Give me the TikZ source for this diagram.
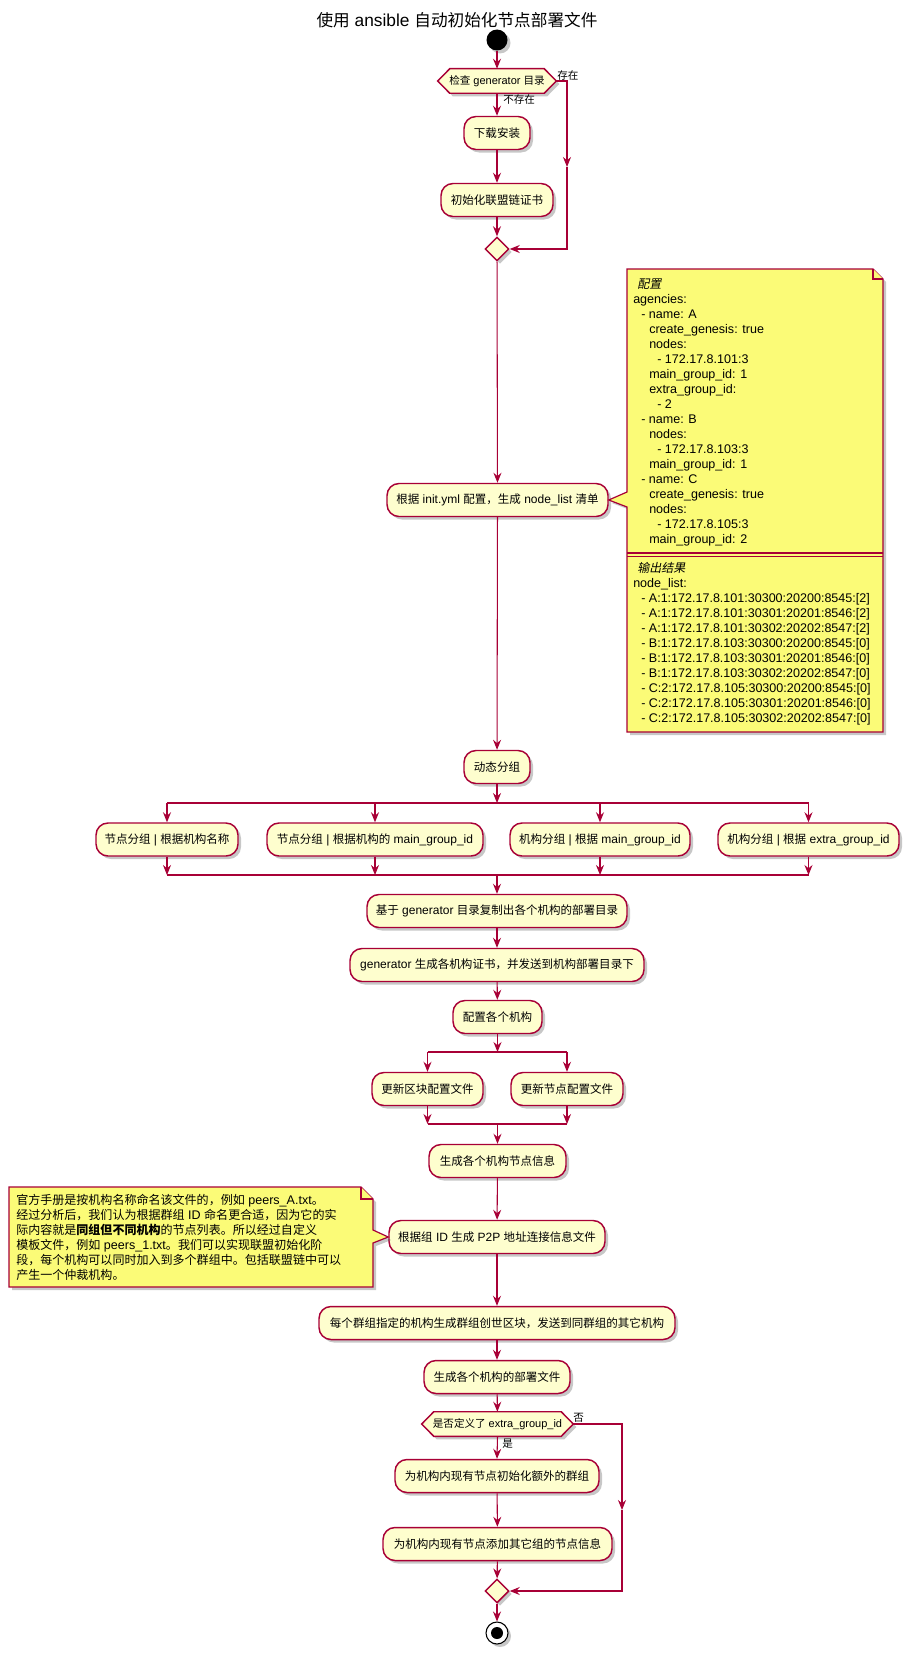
\documentclass[tikz,border=0pt]{standalone}
\usepackage{fontspec}
\setmainfont{Liberation Sans}
\newfontfamily\cjkfont{Noto Sans CJK SC}[Scale=0.96, AutoFakeSlant=0.2]
\usetikzlibrary{arrows.meta, shapes.geometric}
\pgfdeclarelayer{bg}
\pgfsetlayers{bg,main}
\XeTeXinterchartokenstate=1
\newXeTeXintercharclass\CJKclass
\newcount\cjkc
\def\setcjkrange#1#2{\cjkc=#1\relax\loop\XeTeXcharclass\cjkc=\CJKclass\relax\ifnum\cjkc<#2\relax\advance\cjkc by 1\relax\repeat}
\setcjkrange{"3000}{"303F}
\setcjkrange{"4E00}{"9FFF}
\setcjkrange{"FF00}{"FFEF}
\XeTeXinterchartoks 0 \CJKclass={\begingroup\cjkfont}
\XeTeXinterchartoks 4095 \CJKclass={\begingroup\cjkfont}
\XeTeXinterchartoks \CJKclass 0={\endgroup}
\XeTeXinterchartoks \CJKclass 4095={\endgroup}
\definecolor{pred}{HTML}{A80036}
\definecolor{pfill}{HTML}{FEFECE}
\definecolor{nfill}{HTML}{FBFB77}
\newcommand\idA{\hspace*{6pt}}
\newcommand\idB{\hspace*{12pt}}
\newcommand\idC{\hspace*{18pt}}
\newcommand\idT{\hspace*{3pt}}
\tikzset{
  pxgrid/.style={x=0.75pt,y=-0.75pt},
  shad/.style={preaction={fill=black, fill opacity=0.22, draw=none, transform canvas={shift={(3,3)}}}},
  act/.style={draw=pred, fill=pfill, line width=1.1pt, rounded corners=9pt, minimum height=24.75pt, inner sep=0pt, font=\fontsize{9pt}{11pt}\selectfont, shad},
  wd/.style={minimum width=#1*0.75pt},
  dect/.style={minimum height=18pt, inner sep=0pt, font=\fontsize{8.25pt}{10pt}\selectfont},
  decshape/.style={draw=pred, fill=pfill, line width=1.1pt, shad},
  lbl/.style={anchor=west, inner sep=0pt, font=\fontsize{8.25pt}{10pt}\selectfont},
  flow/.style={draw=pred, line width=0.8pt},
  arr/.style={flow, -{Stealth[length=7.5pt, width=6pt, inset=2.5pt]}},
  notebox/.style={draw=pred, fill=nfill, line width=0.9pt, line join=miter, shad},
  notetext/.style={anchor=north west, inner sep=0pt, align=left, font=\fontsize{9.4pt}{11.25pt}\selectfont},
  mergedia/.style={diamond, draw=pred, fill=pfill, line width=1.1pt, minimum width=18pt, minimum height=18pt, inner sep=0pt, shad},
  titletext/.style={inner sep=0pt, font=\fontsize{13pt}{15pt}\selectfont},
}
\begin{document}
\begin{tikzpicture}[pxgrid]
\useasboundingbox (0,0) rectangle (915,1659);
\node[titletext] (title) at (457,20) {使用 ansible 自动初始化节点部署文件};

\node[circle, fill=black, minimum size=15.75pt, inner sep=0pt, shad] (start) at (497,40) {};

\node[dect, wd=118] (d1) at (497,81) {检查 generator 目录};
\node[act, wd=66] (b1) at (497,133) {下载安装};
\node[act, wd=112] (b2) at (497,200) {初始化联盟链证书};
\node[mergedia] (m1) at (497,249) {};
\node[act, wd=221] (b3) at (497.5,500) {根据 init.yml 配置，生成 node\_list 清单};
\node[act, wd=66] (b4) at (497,767) {动态分组};
\node[act, wd=142] (b5) at (167,839.5) {节点分组 | 根据机构名称};
\node[act, wd=216] (b6) at (375,839.5) {节点分组 | 根据机构的 main\_group\_id};
\node[act, wd=180] (b7) at (600,839.5) {机构分组 | 根据 main\_group\_id};
\node[act, wd=181] (b8) at (808.5,839.5) {机构分组 | 根据 extra\_group\_id};
\node[act, wd=260] (b9) at (497,911) {基于 generator 目录复制出各个机构的部署目录};
\node[act, wd=294] (b10) at (497,965) {generator 生成各机构证书，并发送到机构部署目录下};
\node[act, wd=89] (b11) at (497.5,1017) {配置各个机构};
\node[act, wd=111] (b12) at (427.5,1089) {更新区块配置文件};
\node[act, wd=112] (b13) at (567,1089) {更新节点配置文件};
\node[act, wd=137] (b14) at (497.5,1161) {生成各个机构节点信息};
\node[act, wd=216] (b15) at (497,1237) {根据组 ID 生成 P2P 地址连接信息文件};
\node[act, wd=356] (b16) at (497,1323) {每个群组指定的机构生成群组创世区块，发送到同群组的其它机构};
\node[act, wd=146] (b17) at (497,1377) {生成各个机构的部署文件};
\node[dect, wd=151] (d2) at (497.5,1424) {是否定义了 extra\_group\_id};
\node[act, wd=204] (b18) at (497,1476) {为机构内现有节点初始化额外的群组};
\node[act, wd=229] (b19) at (497.5,1544) {为机构内现有节点添加其它组的节点信息};
\node[mergedia] (m2) at (497,1591) {};
\node[circle, draw=black, fill=white, line width=0.8pt, minimum size=16.5pt, inner sep=0pt, shad] (end) at (497,1633) {};
\fill[black] (end.center) circle (4.5pt);

\begin{pgfonlayer}{bg}
\foreach \d in {d1,d2}
  \draw[decshape] (\d.west) -- ([xshift=9pt]\d.north west) -- ([xshift=-9pt]\d.north east) -- (\d.east) -- ([xshift=-9pt]\d.south east) -- ([xshift=9pt]\d.south west) -- cycle;
\end{pgfonlayer}

% top part
\draw[arr] (start) -- (d1);
\draw[arr] (d1.south) -- (b1.north);
\node[lbl] (l1) at (503,99) {不存在};
\draw[arr] (b1) -- (b2);
\draw[arr] (b2) -- (m1);
\coordinate (r1a) at (567,81);
\coordinate (r1b) at (567,167);
\coordinate (r1c) at (567,249);
\draw[arr] (d1.east) -- (r1a) -- (r1b);
\draw[arr] (r1b) -- (r1c) -- (m1.east);
\node[lbl] (l2) at (557,75.5) {存在};
\draw[arr] (m1) -- (b3);
\draw[arr] (b3) -- (b4);

% split 1
\coordinate (f1l) at (167,803);
\coordinate (f1r) at (808.5,803);
\coordinate (j1l) at (167,875);
\coordinate (j1r) at (808.5,875);
\draw[arr] (b4.south) -- (b4.south |- f1l);
\draw[flow] (f1l) -- (f1r);
\foreach \b in {b5,b6,b7,b8} {
  \draw[arr] (\b.north |- f1l) -- (\b.north);
  \draw[arr] (\b.south) -- (\b.south |- j1l);
}
\draw[flow] (j1l) -- (j1r);
\draw[arr] (b9.north |- j1l) -- (b9.north);
\draw[arr] (b9) -- (b10);
\draw[arr] (b10) -- (b11);

% split 2
\coordinate (f2l) at (427.5,1052);
\coordinate (f2r) at (567,1052);
\coordinate (j2l) at (427.5,1124);
\coordinate (j2r) at (567,1124);
\draw[arr] (b11.south) -- (b11.south |- f2l);
\draw[flow] (f2l) -- (f2r);
\foreach \b in {b12,b13} {
  \draw[arr] (\b.north |- f2l) -- (\b.north);
  \draw[arr] (\b.south) -- (\b.south |- j2l);
}
\draw[flow] (j2l) -- (j2r);
\draw[arr] (b14.north |- j2l) -- (b14.north);
\draw[arr] (b14) -- (b15);
\draw[arr] (b15) -- (b16);
\draw[arr] (b16) -- (b17);
\draw[arr] (b17) -- (d2);
\draw[arr] (d2.south) -- (b18.north);
\node[lbl] (l3) at (502,1443.5) {是};
\draw[arr] (b18) -- (b19);
\draw[arr] (b19) -- (m2);
\coordinate (r2a) at (622,1424);
\coordinate (r2b) at (622,1510);
\coordinate (r2c) at (622,1591);
\draw[arr] (d2.east) -- (r2a) -- (r2b);
\draw[arr] (r2b) -- (r2c) -- (m2.east);
\node[lbl] (l4) at (573,1418) {否};
\draw[arr] (m2) -- (end);

% note 1
\draw[notebox] (627,269) -- (873,269) -- (883,279) -- (883,732) -- (627,732) -- (627,507) -- (b3.east) -- (627,492) -- cycle;
\draw[draw=pred, fill=nfill, line width=0.9pt] (873,269) -- (873,279) -- (883,279);
\draw[draw=pred, line width=0.9pt] (627,553) -- (883,553) (627,556.5) -- (883,556.5);
\node[notetext] (n1a) at (633,276.5) {\rule{0pt}{9pt}\idT\textit{配置}\\
agencies:\\
\idA- name: A\\
\idB create\_genesis: true\\
\idB nodes:\\
\idC- 172.17.8.101:3\\
\idB main\_group\_id: 1\\
\idB extra\_group\_id:\\
\idC- 2\\
\idA- name: B\\
\idB nodes:\\
\idC- 172.17.8.103:3\\
\idB main\_group\_id: 1\\
\idA- name: C\\
\idB create\_genesis: true\\
\idB nodes:\\
\idC- 172.17.8.105:3\\
\idB main\_group\_id: 2};
\node[notetext] (n1b) at (633,560.5) {\rule{0pt}{9pt}\idT\textit{输出结果}\\
node\_list:\\
\idA- A:1:172.17.8.101:30300:20200:8545:[2]\\
\idA- A:1:172.17.8.101:30301:20201:8546:[2]\\
\idA- A:1:172.17.8.101:30302:20202:8547:[2]\\
\idA- B:1:172.17.8.103:30300:20200:8545:[0]\\
\idA- B:1:172.17.8.103:30301:20201:8546:[0]\\
\idA- B:1:172.17.8.103:30302:20202:8547:[0]\\
\idA- C:2:172.17.8.105:30300:20200:8545:[0]\\
\idA- C:2:172.17.8.105:30301:20201:8546:[0]\\
\idA- C:2:172.17.8.105:30302:20202:8547:[0]};

% note 2
\draw[notebox] (9,1187) -- (361,1187) -- (373,1199) -- (373,1230) -- (b15.west) -- (373,1243) -- (373,1287) -- (9,1287) -- cycle;
\draw[draw=pred, fill=nfill, line width=0.9pt] (361,1187) -- (361,1199) -- (373,1199);
\node[notetext] (n2) at (16,1192) {\rule{0pt}{9pt}官方手册是按机构名称命名该文件的，例如 peers\_A.txt。\\
经过分析后，我们认为根据群组 ID 命名更合适，因为它的实\\
际内容就是\textbf{同组但不同机构}的节点列表。所以经过自定义\\
模板文件，例如 peers\_1.txt。我们可以实现联盟初始化阶\\
段，每个机构可以同时加入到多个群组中。包括联盟链中可以\\
产生一个仲裁机构。};
\end{tikzpicture}
\end{document}
